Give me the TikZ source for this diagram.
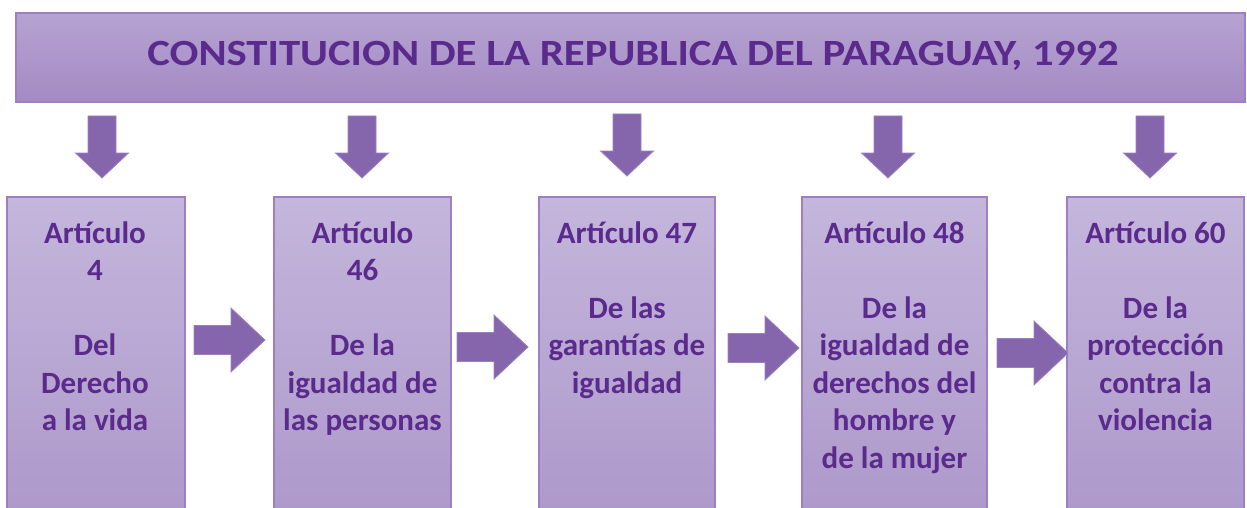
\documentclass[tikz,border=0pt]{standalone}
\usepackage{fontspec}
\setmainfont{Carlito}
\definecolor{txt}{HTML}{5A2A8C}
\definecolor{boxtop}{HTML}{C4B6DC}
\definecolor{boxbot}{HTML}{AD98CA}
\definecolor{titletop}{HTML}{B6A3D2}
\definecolor{titlebot}{HTML}{A48AC3}
\definecolor{edge}{HTML}{9C80C3}
\definecolor{arrowfill}{HTML}{8566AD}
\definecolor{arrowedge}{HTML}{9B80C1}
\tikzset{
  x=1pt, y=-1pt,
  titlebox/.style={draw=edge, line width=1.2pt, top color=titletop, bottom color=titlebot},
  artbox/.style={draw=edge, line width=1.2pt, top color=boxtop, bottom color=boxbot},
  blockarrow/.style={fill=arrowfill, draw=arrowedge, line width=0.8pt, line join=miter},
  arttext/.style={anchor=base, inner sep=0pt, text=txt, font=\bfseries\fontsize{31}{37.5}\selectfont},
  titletext/.style={anchor=base, inner sep=0pt, text=txt, font=\bfseries\fontsize{37}{40}\selectfont},
  pics/downarr/.style={code={
    \path[blockarrow] (-14,0) -- (14,0) -- (14,37) -- (26.5,37) -- (0,62) -- (-26.5,37) -- (-14,37) -- cycle;
  }},
  pics/rightarr/.style={code={
    \path[blockarrow] (0,-14.5) -- (37,-14.5) -- (37,-32) -- (71,0) -- (37,32) -- (37,14.5) -- (0,14.5) -- cycle;
  }}
}
\newcommand{\arttab}[1]{\begin{tabular}[t]{@{}c@{}}#1\end{tabular}}
\begin{document}
\begin{tikzpicture}
\useasboundingbox (0,0) rectangle (1247,508);
\begin{scope}
\clip (0,0) rectangle (1247,508);
% title
\path[titlebox] (16,13) rectangle (1245,102);
\node[titletext] (t) at (633,66) {\scalebox{1.155}[1]{CONSTITUCION DE LA REPUBLICA DEL PARAGUAY, 1992}};
% boxes
\path[artbox] (7,197) rectangle (185,520);
\path[artbox] (274,197) rectangle (451,520);
\path[artbox] (539,197) rectangle (715,520);
\path[artbox] (802,197) rectangle (987,520);
\path[artbox] (1067,197) rectangle (1244,520);
% texts
\node[arttext] (x1) at (95,243) {\arttab{Artículo\\4\\ \\Del\\Derecho\\a la vida}};
\node[arttext] (x2) at (362.5,243) {\arttab{Artículo\\46\\ \\De la\\igualdad de\\las personas}};
\node[arttext] (x3) at (627,243) {\arttab{Artículo 47\\ \\De las\\garantías de\\igualdad}};
\node[arttext] (x4) at (894.5,243) {\arttab{Artículo 48\\ \\De la\\igualdad de\\derechos del\\hombre y\\de la mujer}};
\node[arttext] (x5) at (1155.5,243) {\arttab{Artículo 60\\ \\De la\\protección\\contra la\\violencia}};
% down arrows
\pic at (102,116) {downarr};
\pic at (362,116) {downarr};
\pic at (627,114) {downarr};
\pic at (888,116) {downarr};
\pic at (1150,116) {downarr};
% right arrows
\pic at (194,340) {rightarr};
\pic at (457,347) {rightarr};
\pic at (728,348) {rightarr};
\pic at (997,353) {rightarr};
\end{scope}
\end{tikzpicture}
\end{document}
